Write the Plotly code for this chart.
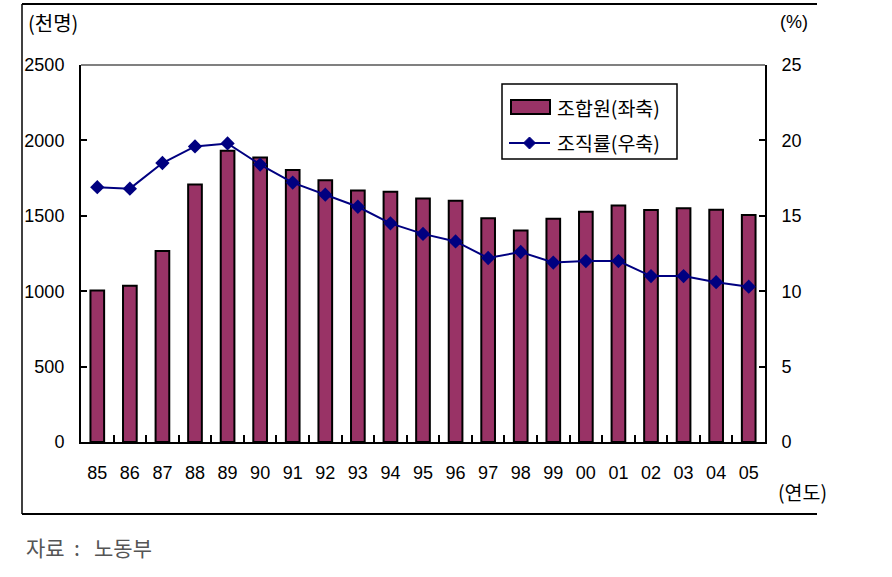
import plotly.graph_objects as go

years = ["85", "86", "87", "88", "89", "90", "91", "92", "93", "94", "95",
         "96", "97", "98", "99", "00", "01", "02", "03", "04", "05"]
members = [1004, 1036, 1267, 1707, 1932, 1887, 1803, 1735, 1667, 1659, 1615,
           1599, 1484, 1402, 1481, 1527, 1569, 1538, 1550, 1540, 1506]
rate = [16.9, 16.8, 18.5, 19.6, 19.8, 18.4, 17.2, 16.4, 15.6, 14.5, 13.8,
        13.3, 12.2, 12.6, 11.9, 12.0, 12.0, 11.0, 11.0, 10.6, 10.3]
left_ticks = [0, 500, 1000, 1500, 2000, 2500]
right_ticks = [0, 5, 10, 15, 20, 25]
series_names = ["조합원(좌축)", "조직률(우축)"]

W, H = 892, 577
L, R, T, B = 81, 765, 65, 442
BAR_COLOR = "#993366"
LINE_COLOR = "#000080"


def px(x):
    return (x - L) / (R - L)


def py(y):
    return (B - y) / (B - T)


NUM = "Liberation Sans, Arial, sans-serif"
KOR = "Noto Sans CJK KR, sans-serif"

fig = go.Figure()
fig.add_trace(go.Bar(
    x=years, y=members, name=series_names[0],
    marker=dict(color=BAR_COLOR, line=dict(color="black", width=2)),
    width=0.42, yaxis="y", showlegend=False,
))
fig.add_trace(go.Scatter(
    x=years, y=rate, name=series_names[1], mode="lines+markers",
    line=dict(color=LINE_COLOR, width=2),
    marker=dict(symbol="diamond", size=11, color=LINE_COLOR),
    yaxis="y2", showlegend=False,
))

fig.update_layout(
    width=W, height=H,
    margin=dict(l=L, r=W - R, t=T, b=H - B),
    paper_bgcolor="white", plot_bgcolor="white",
    showlegend=False,
    xaxis=dict(
        type="category", tickvals=years, ticktext=years,
        tickson="boundaries", ticks="inside", ticklen=7, tickwidth=1.5,
        tickcolor="black", showline=True, linecolor="black", linewidth=2,
        showgrid=False, ticklabelstandoff=13,
        tickfont=dict(family=NUM, size=18, color="black"),
        range=[-0.5, len(years) - 0.5],
    ),
    yaxis=dict(
        range=[0, 2500], tickvals=left_ticks, ticks="inside", ticklen=6,
        tickwidth=1.5, tickcolor="black", showline=True, linecolor="black",
        linewidth=2, showgrid=False, zeroline=False, ticklabelstandoff=11,
        tickfont=dict(family=NUM, size=18, color="black"),
    ),
    yaxis2=dict(
        range=[0, 25], tickvals=right_ticks, overlaying="y", side="right",
        ticks="inside", ticklen=6, tickwidth=1.5, tickcolor="black",
        showline=True, linecolor="black", linewidth=2, showgrid=False,
        zeroline=False, ticklabelstandoff=11,
        tickfont=dict(family=NUM, size=18, color="black"),
    ),
)

shapes = [
    # gray top border of plot area
    dict(type="line", xref="paper", yref="paper", x0=0, x1=1, y0=1, y1=1,
         line=dict(color="#808080", width=2)),
    # outer frame (top, left, bottom)
    dict(type="line", xref="paper", yref="paper", x0=px(22), x1=px(817),
         y0=py(4), y1=py(4), line=dict(color="black", width=2)),
    dict(type="line", xref="paper", yref="paper", x0=px(22), x1=px(22),
         y0=py(4), y1=py(514), line=dict(color="black", width=1.5)),
    dict(type="line", xref="paper", yref="paper", x0=px(22), x1=px(817),
         y0=py(514), y1=py(514), line=dict(color="black", width=2)),
    # legend box
    dict(type="rect", xref="paper", yref="paper", x0=px(502), x1=px(677),
         y0=py(84), y1=py(159), line=dict(color="black", width=1.5),
         fillcolor="white", layer="above"),
    # legend bar symbol
    dict(type="rect", xref="paper", yref="paper", x0=px(511), x1=px(550),
         y0=py(100), y1=py(114), line=dict(color="black", width=2),
         fillcolor=BAR_COLOR, layer="above"),
    # legend line symbol
    dict(type="line", xref="paper", yref="paper", x0=px(509), x1=px(550),
         y0=py(143), y1=py(143), line=dict(color=LINE_COLOR, width=2),
         layer="above"),
    dict(type="path", xref="paper", yref="paper",
         path="M {a},{b} L {c},{d} L {a},{e} L {f},{d} Z".format(
             a=px(529.5), b=py(137), c=px(535.5), d=py(143), e=py(149),
             f=px(523.5)),
         fillcolor=LINE_COLOR, line=dict(color=LINE_COLOR, width=1),
         layer="above"),
]
fig.update_layout(shapes=shapes)

annos = [
    dict(text=series_names[0], x=px(555), y=py(107), xanchor="left",
         yanchor="middle", font=dict(family=KOR, size=19.5, color="black")),
    dict(text=series_names[1], x=px(555), y=py(142), xanchor="left",
         yanchor="middle", font=dict(family=KOR, size=19.5, color="black")),
    dict(text="(천명)", x=px(26), y=py(22), xanchor="left", yanchor="middle",
         font=dict(family=KOR, size=20, color="black")),
    dict(text="(%)", x=px(810), y=py(22), xanchor="right", yanchor="middle",
         font=dict(family=NUM, size=18, color="black")),
    dict(text="(연도)", x=px(829), y=py(491), xanchor="right", yanchor="middle",
         font=dict(family=KOR, size=19.5, color="black")),
    dict(text="자료 &nbsp;:&nbsp;&nbsp; 노동부", x=px(24), y=py(547), xanchor="left",
         yanchor="middle", font=dict(family=KOR, size=21, color="#555555")),
]
for a in annos:
    fig.add_annotation(xref="paper", yref="paper", showarrow=False, **a)

fig.write_html("out.html")
